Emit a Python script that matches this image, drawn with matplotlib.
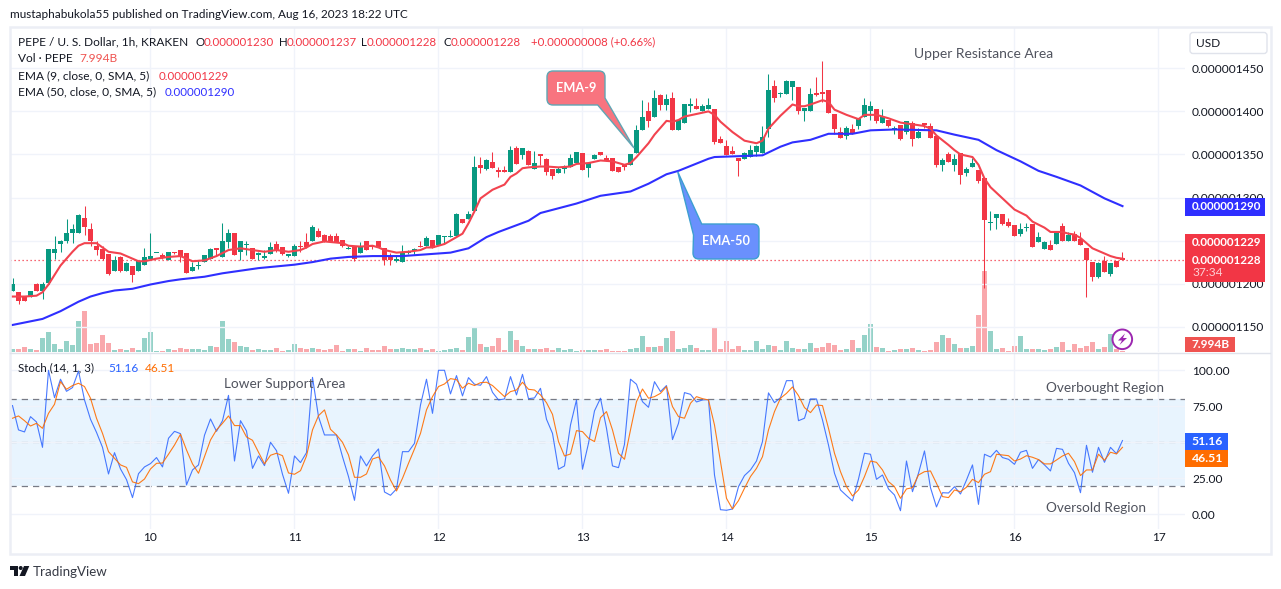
"""PEPE / USD 1h chart with EMA, volume and stochastic panes."""

import matplotlib

matplotlib.use("Agg")
import matplotlib.pyplot as plt
from matplotlib.patches import Circle, FancyBboxPatch, PathPatch, Polygon, Rectangle
from matplotlib.path import Path

W, H = 1281, 589
plt.rcParams["font.family"] = ["Lato", "DejaVu Sans"]

# prices are in 1e-9 USD, volumes in billions of PEPE
opens = [
    1192, 1190, 1186, 1185, 1200, 1191, 1201, 1236, 1246, 1249,
    1259, 1259, 1276, 1264, 1244, 1240, 1234, 1215, 1231, 1215,
    1221, 1215, 1222, 1229, 1235, 1233, 1227, 1236, 1239, 1236,
    1215, 1220, 1225, 1229, 1241, 1231, 1248, 1259, 1237, 1245,
    1241, 1233, 1230, 1234, 1246, 1243, 1232, 1232, 1244, 1248,
    1249, 1261, 1256, 1255, 1255, 1251, 1240, 1243, 1236, 1249,
    1244, 1249, 1241, 1231, 1226, 1225, 1235, 1238, 1244, 1244,
    1251, 1245, 1254, 1254, 1255, 1275, 1275, 1284, 1338, 1333,
    1341, 1332, 1332, 1330, 1357, 1349, 1354, 1333, 1350, 1345,
    1333, 1328, 1333, 1336, 1340, 1352, 1334, 1345, 1353, 1346,
    1346, 1335, 1338, 1338, 1352, 1378, 1400, 1394, 1419, 1408,
    1415, 1378, 1387, 1406, 1406, 1401, 1403, 1403, 1368, 1360,
    1354, 1346, 1345, 1347, 1353, 1352, 1379, 1430, 1420, 1420,
    1428, 1428, 1400, 1401, 1421, 1423, 1425, 1397, 1376, 1371,
    1379, 1383, 1393, 1401, 1403, 1387, 1390, 1379, 1384, 1376,
    1387, 1369, 1386, 1383, 1372, 1338, 1350, 1338, 1352, 1328,
    1336, 1332, 1323, 1270, 1276, 1281, 1271, 1268, 1258, 1265,
    1269, 1248, 1240, 1245, 1246, 1267, 1250, 1258, 1252, 1241,
    1225, 1208, 1226, 1211, 1226, 1230,
]
highs = [
    1207, 1190, 1186, 1192, 1201, 1202, 1240, 1255, 1251, 1275,
    1269, 1281, 1290, 1270, 1250, 1244, 1234, 1232, 1232, 1225,
    1221, 1226, 1241, 1259, 1236, 1236, 1237, 1237, 1239, 1236,
    1225, 1227, 1233, 1241, 1241, 1270, 1263, 1259, 1250, 1250,
    1241, 1237, 1239, 1248, 1250, 1243, 1234, 1246, 1249, 1259,
    1268, 1265, 1258, 1258, 1259, 1251, 1244, 1244, 1248, 1250,
    1244, 1250, 1241, 1235, 1233, 1245, 1239, 1241, 1249, 1255,
    1251, 1256, 1255, 1262, 1282, 1275, 1284, 1348, 1347, 1345,
    1353, 1335, 1337, 1360, 1360, 1357, 1355, 1354, 1350, 1346,
    1333, 1336, 1338, 1350, 1353, 1352, 1340, 1350, 1353, 1349,
    1346, 1335, 1339, 1350, 1384, 1413, 1411, 1425, 1420, 1420,
    1423, 1390, 1409, 1415, 1415, 1409, 1416, 1403, 1372, 1367,
    1360, 1346, 1353, 1361, 1361, 1383, 1444, 1437, 1423, 1437,
    1435, 1428, 1404, 1427, 1440, 1459, 1425, 1397, 1382, 1383,
    1385, 1392, 1416, 1412, 1403, 1403, 1390, 1383, 1384, 1389,
    1389, 1381, 1386, 1387, 1372, 1346, 1353, 1350, 1352, 1336,
    1346, 1332, 1323, 1284, 1281, 1281, 1276, 1268, 1270, 1270,
    1269, 1260, 1250, 1251, 1260, 1270, 1260, 1261, 1260, 1241,
    1225, 1225, 1232, 1224, 1226, 1237,
]
lows = [
    1192, 1176, 1180, 1185, 1191, 1182, 1200, 1229, 1237, 1247,
    1247, 1259, 1256, 1244, 1233, 1228, 1210, 1215, 1214, 1215,
    1202, 1215, 1222, 1229, 1235, 1229, 1227, 1234, 1225, 1212,
    1215, 1217, 1225, 1229, 1233, 1231, 1241, 1233, 1228, 1233,
    1229, 1228, 1229, 1234, 1237, 1233, 1231, 1232, 1237, 1241,
    1249, 1254, 1248, 1248, 1248, 1243, 1240, 1226, 1236, 1239,
    1240, 1242, 1222, 1222, 1225, 1225, 1234, 1234, 1243, 1244,
    1241, 1245, 1246, 1254, 1255, 1270, 1275, 1284, 1329, 1332,
    1334, 1324, 1330, 1330, 1339, 1345, 1338, 1333, 1338, 1326,
    1321, 1328, 1328, 1336, 1340, 1332, 1324, 1345, 1349, 1342,
    1331, 1330, 1332, 1338, 1352, 1378, 1382, 1393, 1402, 1402,
    1378, 1378, 1387, 1399, 1403, 1401, 1403, 1362, 1363, 1349,
    1350, 1325, 1345, 1347, 1348, 1352, 1370, 1411, 1417, 1420,
    1413, 1397, 1389, 1401, 1418, 1411, 1398, 1374, 1369, 1368,
    1374, 1379, 1393, 1390, 1386, 1387, 1382, 1374, 1367, 1374,
    1360, 1369, 1381, 1369, 1335, 1331, 1341, 1331, 1316, 1325,
    1335, 1317, 1195, 1262, 1263, 1268, 1266, 1255, 1255, 1261,
    1242, 1248, 1240, 1239, 1246, 1249, 1250, 1250, 1245, 1184,
    1203, 1206, 1214, 1209, 1219, 1228,
]
closes = [
    1200, 1180, 1180, 1192, 1191, 1200, 1240, 1240, 1250, 1259,
    1263, 1280, 1266, 1249, 1239, 1229, 1211, 1228, 1215, 1224,
    1210, 1226, 1231, 1232, 1236, 1231, 1237, 1235, 1232, 1212,
    1219, 1221, 1233, 1240, 1239, 1250, 1259, 1233, 1250, 1246,
    1229, 1236, 1232, 1243, 1238, 1234, 1234, 1244, 1242, 1242,
    1266, 1254, 1248, 1248, 1248, 1244, 1241, 1229, 1243, 1239,
    1243, 1242, 1228, 1227, 1229, 1237, 1236, 1240, 1243, 1253,
    1241, 1256, 1255, 1255, 1281, 1270, 1281, 1336, 1334, 1343,
    1334, 1330, 1330, 1355, 1339, 1357, 1338, 1340, 1348, 1330,
    1325, 1333, 1335, 1346, 1353, 1332, 1340, 1349, 1349, 1342,
    1331, 1330, 1335, 1350, 1378, 1393, 1389, 1416, 1408, 1414,
    1378, 1390, 1409, 1409, 1403, 1406, 1407, 1365, 1363, 1349,
    1350, 1342, 1352, 1355, 1360, 1370, 1425, 1415, 1421, 1435,
    1435, 1401, 1404, 1420, 1419, 1420, 1398, 1379, 1369, 1381,
    1374, 1392, 1407, 1406, 1389, 1393, 1383, 1380, 1368, 1389,
    1368, 1376, 1384, 1369, 1338, 1343, 1341, 1345, 1326, 1333,
    1340, 1319, 1274, 1271, 1281, 1269, 1267, 1255, 1263, 1266,
    1243, 1254, 1248, 1239, 1260, 1250, 1256, 1250, 1245, 1227,
    1208, 1224, 1214, 1224, 1219, 1228,
]
volumes = [
    18, 18, 30, 18, 12, 84, 120, 48, 18, 66,
    42, 186, 246, 48, 54, 102, 54, 12, 18, 12,
    24, 12, 84, 120, 6, 6, 18, 12, 24, 18,
    18, 18, 12, 36, 30, 186, 78, 60, 36, 30,
    12, 18, 12, 12, 24, 6, 12, 48, 24, 18,
    24, 18, 12, 18, 42, 6, 18, 18, 6, 24,
    12, 12, 36, 18, 18, 24, 18, 18, 24, 12,
    18, 6, 12, 18, 24, 12, 90, 144, 48, 30,
    36, 84, 12, 126, 72, 36, 18, 18, 18, 24,
    12, 24, 12, 18, 6, 12, 12, 12, 12, 18,
    6, 6, 6, 18, 24, 96, 30, 30, 36, 84,
    126, 18, 24, 42, 24, 12, 12, 150, 18, 66,
    18, 36, 12, 12, 66, 18, 42, 36, 12, 66,
    24, 18, 18, 54, 24, 30, 54, 42, 12, 18,
    72, 24, 102, 168, 30, 24, 6, 12, 18, 18,
    24, 12, 6, 12, 60, 102, 84, 48, 22, 24,
    36, 222, 486, 126, 18, 24, 6, 36, 96, 18,
    18, 18, 12, 18, 30, 60, 12, 48, 24, 36,
    60, 18, 30, 108, 18, 8,
]

ema9_bars = [
    0, 2, 4, 5, 6, 8, 10, 11, 12, 14, 15, 16, 18, 20, 21, 22, 24, 26, 28, 30,
    32, 34, 36, 38, 40, 42, 44, 46, 48, 49, 50, 52, 55, 56, 58, 60, 61, 62, 64, 66,
    68, 69, 70, 72, 73, 75, 76, 77, 78, 80, 82, 83, 84, 85, 86, 88, 89, 91, 93, 94,
    96, 98, 100, 102, 103, 104, 106, 107, 109, 110, 111, 112, 114, 116, 117, 118, 120, 122, 124, 125,
    126, 128, 130, 131, 132, 133, 135, 136, 137, 139, 141, 142, 144, 146, 148, 150, 152, 153, 154, 156,
    157, 158, 160, 161, 162, 163, 165, 167, 169, 170, 172, 173, 175, 176, 177, 178, 179, 180, 182, 183,
    184, 185,
]
ema9_vals = [
    1185, 1185, 1186, 1190, 1199, 1221, 1237, 1244, 1247, 1247, 1242, 1237, 1235, 1229, 1226, 1226, 1229, 1231, 1232, 1226,
    1227, 1232, 1239, 1241, 1239, 1237, 1239, 1237, 1239, 1242, 1246, 1249, 1247, 1244, 1243, 1244, 1242, 1239, 1236, 1237,
    1239, 1242, 1242, 1246, 1250, 1258, 1270, 1284, 1299, 1309, 1315, 1324, 1328, 1334, 1335, 1336, 1336, 1335, 1336, 1339,
    1340, 1343, 1342, 1338, 1340, 1347, 1363, 1373, 1389, 1388, 1390, 1394, 1397, 1400, 1396, 1388, 1376, 1366, 1363, 1366,
    1380, 1395, 1408, 1406, 1406, 1408, 1413, 1411, 1402, 1396, 1391, 1396, 1396, 1392, 1387, 1385, 1383, 1380, 1372, 1361,
    1355, 1350, 1347, 1338, 1322, 1312, 1299, 1286, 1279, 1272, 1265, 1260, 1260, 1258, 1257, 1253, 1247, 1241, 1235, 1232,
    1230, 1229,
]
ema50_bars = [
    0, 5, 8, 11, 13, 15, 17, 20, 23, 26, 28, 32, 35, 38, 41, 47, 50, 53, 56, 60,
    65, 69, 73, 76, 79, 81, 86, 88, 94, 98, 103, 106, 109, 111, 116, 117, 121, 125, 128, 130,
    133, 136, 138, 140, 143, 147, 154, 157, 161, 164, 168, 171, 174, 178, 182, 185,
]
ema50_vals = [
    1152, 1159, 1168, 1179, 1185, 1189, 1192, 1194, 1199, 1203, 1205, 1208, 1212, 1215, 1218, 1222, 1225, 1229, 1231, 1232,
    1232, 1234, 1236, 1241, 1254, 1260, 1273, 1282, 1293, 1302, 1307, 1316, 1327, 1331, 1345, 1347, 1348, 1349, 1359, 1364,
    1367, 1374, 1374, 1374, 1378, 1379, 1378, 1373, 1367, 1355, 1342, 1331, 1324, 1314, 1299, 1290,
]

stoch_k = [
    75.5, 58.6, 57.2, 67.8, 64.1, 46.5, 100.0, 81.0, 93.8, 85.4,
    88.0, 99.5, 79.4, 66.0, 56.9, 46.5, 28.0, 42.8, 31.5, 24.1,
    11.6, 28.2, 32.9, 35.2, 39.4, 32.9, 52.8, 57.6, 56.0, 20.4,
    30.8, 34.3, 54.9, 66.2, 57.6, 65.0, 82.6, 37.0, 65.0, 57.9,
    31.9, 40.5, 33.8, 50.0, 44.2, 27.8, 14.6, 40.5, 35.9, 42.8,
    95.1, 67.8, 55.1, 55.1, 55.1, 40.0, 26.2, 9.7, 40.5, 33.6,
    40.5, 45.4, 15.5, 13.2, 17.6, 43.5, 43.5, 49.3, 75.9, 93.8,
    70.1, 100.0, 100.0, 83.6, 96.3, 82.2, 94.9, 90.3, 89.6, 95.6,
    84.7, 79.4, 80.1, 95.6, 82.9, 97.2, 80.3, 80.8, 87.5, 66.0,
    56.2, 31.3, 33.6, 62.0, 79.4, 31.3, 49.3, 71.8, 80.6, 59.7,
    33.6, 32.4, 48.6, 93.8, 90.3, 78.2, 74.3, 92.1, 85.2, 89.4,
    51.9, 63.2, 84.5, 83.3, 78.0, 79.4, 79.6, 27.3, 3.2, 2.8,
    3.7, 19.2, 26.9, 30.8, 37.0, 50.5, 84.3, 77.5, 81.0, 92.8,
    92.8, 65.0, 66.7, 80.1, 80.1, 65.5, 48.1, 28.5, 16.9, 13.0,
    9.3, 24.5, 42.4, 41.7, 24.3, 27.3, 17.6, 13.4, 2.5, 37.0,
    15.7, 28.5, 44.0, 18.5, 5.1, 15.0, 14.8, 19.2, 14.1, 23.8,
    34.3, 6.9, 41.7, 39.8, 44.4, 39.4, 38.2, 34.7, 43.1, 44.4,
    31.9, 38.0, 34.3, 30.1, 45.8, 45.1, 35.4, 28.9, 15.0, 47.9,
    29.2, 46.5, 36.1, 46.5, 42.1, 51.2,
]
stoch_d = [
    66.7, 68.3, 65.0, 61.3, 63.2, 59.7, 70.1, 76.4, 92.1, 86.8,
    89.4, 91.0, 88.7, 80.6, 66.7, 56.2, 43.5, 38.9, 34.3, 32.6,
    22.5, 21.3, 24.5, 31.5, 35.4, 35.6, 41.7, 48.1, 55.6, 44.7,
    35.0, 28.5, 40.0, 51.6, 58.6, 63.2, 68.3, 61.6, 61.6, 53.7,
    51.4, 43.1, 35.0, 41.0, 42.4, 40.7, 28.7, 27.8, 30.3, 40.5,
    58.6, 68.5, 72.5, 59.0, 55.1, 50.0, 41.2, 25.7, 25.7, 28.0,
    38.4, 39.8, 33.6, 23.8, 16.2, 25.0, 35.4, 45.4, 56.2, 72.5,
    81.7, 88.7, 90.5, 94.2, 93.5, 87.5, 91.0, 89.4, 91.4, 91.7,
    89.4, 85.6, 81.7, 85.2, 86.3, 91.7, 86.8, 86.3, 82.9, 77.5,
    69.4, 50.5, 40.5, 41.9, 58.1, 57.4, 52.8, 50.5, 67.1, 71.3,
    58.6, 42.4, 38.2, 58.6, 78.2, 87.0, 80.6, 81.7, 84.0, 88.7,
    74.8, 67.8, 66.7, 77.1, 81.7, 80.3, 79.4, 62.0, 36.6, 11.1,
    3.7, 9.5, 18.1, 26.2, 31.9, 40.0, 58.6, 71.3, 80.6, 84.0,
    88.4, 82.4, 74.1, 70.6, 75.9, 75.5, 59.7, 42.4, 29.6, 19.2,
    12.7, 16.9, 26.2, 37.0, 36.1, 30.8, 22.7, 19.2, 11.1, 17.6,
    18.5, 27.3, 29.6, 30.1, 21.5, 12.3, 11.6, 16.9, 15.7, 18.8,
    24.3, 22.0, 27.8, 29.6, 41.7, 41.2, 40.7, 37.0, 38.4, 40.7,
    39.6, 38.0, 35.0, 35.0, 37.7, 40.5, 42.4, 36.6, 26.9, 30.8,
    30.8, 41.7, 37.5, 43.1, 41.9, 46.5,
]

price_ticks = [1150, 1200, 1250, 1300, 1350, 1400, 1450]
stoch_ticks = [0, 25, 50, 75, 100]
day_bars = [23, 47, 71, 95, 119, 143, 167, 191]
day_labels = ["10", "11", "12", "13", "14", "15", "16", "17"]

GREEN = "#089981"
RED = "#f23645"
GREEN_SOFT = "#95d2c8"
RED_SOFT = "#f9a8ac"
GRID = "#f0f3fa"
TEXT = "#131722"
NOTE = "#50535e"


def px_rect(x0, y0, x1, y1):
    return [x0 / W, 1 - y1 / H, (x1 - x0) / W, (y1 - y0) / H]


def callout_path(x0, y0, x1, y1, r, tail_corner, tail):
    corners = [
        ("tl", (x0, y0), (x0, y0 + r), (x0 + r, y0)),
        ("tr", (x1, y0), (x1 - r, y0), (x1, y0 + r)),
        ("br", (x1, y1), (x1, y1 - r), (x1 - r, y1)),
        ("bl", (x0, y1), (x0 + r, y1), (x0, y1 - r)),
    ]
    verts, codes = [], []
    for name, corner, a, b in corners:
        if name == tail_corner:
            verts += tail
            codes += [Path.LINETO] * len(tail)
        else:
            verts += [a, corner, b]
            codes += [Path.LINETO, Path.CURVE3, Path.CURVE3]
    codes[0] = Path.MOVETO
    verts.append(verts[0])
    codes.append(Path.CLOSEPOLY)
    return Path(verts, codes)


def draw_candles(ax):
    bars = range(len(closes))
    colors = [GREEN if c >= o else RED for o, c in zip(opens, closes)]
    ax.vlines(bars, lows, highs, colors=colors, linewidth=0.75, zorder=3)
    bottoms = [min(o, c) for o, c in zip(opens, closes)]
    heights = [max(abs(c - o), 1.2) for o, c in zip(opens, closes)]
    ax.bar(bars, heights, bottom=bottoms, width=0.82, color=colors, linewidth=0, zorder=3)


def main():
    fig = plt.figure(figsize=(W / 100, H / 100), dpi=100, facecolor="white")

    ax_vol = fig.add_axes(px_rect(10, 27, 1185, 352), zorder=1)
    ax = fig.add_axes(px_rect(10, 27, 1185, 352), zorder=2)
    ax_st = fig.add_axes(px_rect(10, 353, 1185, 529), zorder=2)
    over = fig.add_axes([0, 0, 1, 1], zorder=5)

    xlim = (-0.417, 195.42)

    # volume pane sits behind the candles
    vol_colors = [GREEN_SOFT if c >= o else RED_SOFT for o, c in zip(opens, closes)]
    ax_vol.bar(range(len(volumes)), volumes, width=0.82, color=vol_colors, linewidth=0)
    ax_vol.set_xlim(xlim)
    ax_vol.set_ylim(0, 1950)
    ax_vol.axis("off")

    ax.patch.set_visible(False)
    draw_candles(ax)
    ax.plot(ema50_bars, ema50_vals, color="#2f2fff", linewidth=1.5, zorder=4)
    ax.plot(ema9_bars, ema9_vals, color="#f2434f", linewidth=1.5, zorder=4)
    ax.axhline(closes[-1], color=RED, linewidth=0.9, linestyle=(0, (1, 2.2)), zorder=2)
    ax.set_xlim(xlim)
    ax.set_ylim(1120.6, 1498)
    ax.set_xticks(day_bars)
    ax.set_yticks(price_ticks)
    # the 1250 label is fully covered by the last price tag
    ax.set_yticklabels([f"{v / 1e9:.9f}" if v != 1250 else "" for v in price_ticks], fontsize=8.6, color=TEXT)
    ax.yaxis.tick_right()
    ax.tick_params(axis="y", length=0, pad=5)
    ax.tick_params(axis="x", length=0, labelbottom=False)
    ax.grid(True, color=GRID, linewidth=1.0)
    ax.set_axisbelow(True)
    for spine in ax.spines.values():
        spine.set_visible(False)

    ax_st.axhspan(20, 80, color="#e8f4fe", linewidth=0, zorder=0)
    ax_st.axhline(80, color="#787b86", linewidth=0.9, linestyle=(0, (5, 4)), zorder=1)
    ax_st.axhline(50, color="#787b86", linewidth=0.9, alpha=0.6, linestyle=(0, (5, 4)), zorder=1)
    ax_st.axhline(20, color="#787b86", linewidth=0.9, linestyle=(0, (5, 4)), zorder=1)
    ax_st.plot(range(len(stoch_k)), stoch_k, color="#2962ff", linewidth=0.8, alpha=0.85, zorder=3)
    ax_st.plot(range(len(stoch_d)), stoch_d, color="#ff6d00", linewidth=0.8, alpha=0.9, zorder=4)
    ax_st.set_xlim(xlim)
    ax_st.set_ylim(-10.2, 112)
    ax_st.set_xticks(day_bars)
    ax_st.set_xticklabels(day_labels, fontsize=8.6, color=TEXT)
    ax_st.set_yticks(stoch_ticks)
    ax_st.set_yticklabels([f"{v:.2f}" for v in stoch_ticks], fontsize=8.6, color=TEXT)
    ax_st.yaxis.tick_right()
    ax_st.tick_params(axis="y", length=0, pad=5)
    ax_st.tick_params(axis="x", length=0, pad=2)
    ax_st.grid(True, color=GRID, linewidth=1.0, zorder=2)
    for spine in ax_st.spines.values():
        spine.set_visible(False)

    # overlay in reference pixels: frame, legend, labels, callouts
    over.set_xlim(0, W)
    over.set_ylim(H, 0)
    over.axis("off")
    over.patch.set_visible(False)

    def txt(x, y, s, color=TEXT, size=8.6, ha="left", weight="normal"):
        over.text(x, y, s, color=color, fontsize=size, ha=ha, va="center", fontweight=weight)

    over.add_patch(Rectangle((9.5, 26.5), 1261, 527, fill=False, edgecolor="#eceef5", linewidth=1.8))
    over.plot([10, 1270], [352.5, 352.5], color="#e0e3eb", linewidth=1.0)

    txt(10, 15, "mustaphabukola55 published on TradingView.com, Aug 16, 2023 18:22 UTC", size=8.45)

    txt(18, 42, "PEPE / U. S. Dollar, 1h, KRAKEN", size=8.6)
    for x, s in [(195.5, "O"), (278.5, "H"), (361.5, "L"), (443, "C")]:
        txt(x, 42, s, size=8.3)
    for x, s in [
        (204, "0.000001230"),
        (286.5, "0.000001237"),
        (367, "0.000001228"),
        (451, "0.000001228"),
        (531, "+0.000000008 (+0.66%)"),
    ]:
        txt(x, 42, s, color=RED, size=8.3)
    txt(18, 59, "Vol · PEPE")
    txt(79, 59, "7.994B", color="#ef5350")
    txt(18, 76, "EMA (9, close, 0, SMA, 5)")
    txt(159, 76, "0.000001229", color=RED, size=8.3)
    txt(18, 92, "EMA (50, close, 0, SMA, 5)")
    txt(165, 92, "0.000001290", color="#2f2fff", size=8.3)
    txt(18, 368, "Stoch (14, 1, 3)", size=8.3)
    txt(108, 368, "51.16", color="#2962ff")
    txt(145, 368, "46.51", color="#ff6d00")

    txt(914, 54.5, "Upper Resistance Area", color=NOTE, size=10.0)
    txt(224, 383.5, "Lower Support Area", color=NOTE, size=9.8)
    txt(1046, 388.5, "Overbought Region", color=NOTE, size=9.8)
    txt(1046, 508.5, "Oversold Region", color=NOTE, size=9.8)

    over.add_patch(FancyBboxPatch((1190, 32.5), 77, 21, boxstyle="round,pad=0,rounding_size=3",
                                  facecolor="white", edgecolor="#e0e3eb", linewidth=1.0))
    txt(1208, 43.5, "USD", ha="center")

    # last value tags on the scale
    over.add_patch(Rectangle((1185, 198), 80, 18, facecolor="#2f2fff", edgecolor="none"))
    txt(1192, 207, "0.000001290", color="white", size=8.4, weight="bold")
    over.add_patch(Rectangle((1185, 234), 80, 48, facecolor=RED, edgecolor="none"))
    txt(1192, 243, "0.000001229", color="white", size=8.4, weight="bold")
    txt(1192, 260, "0.000001228", color="white", size=8.4, weight="bold")
    txt(1192, 273, "37:34", color="#fcd0d4", size=8.6)
    over.add_patch(Rectangle((1185, 337), 50, 15, facecolor="#ef5350", edgecolor="none"))
    txt(1192, 344.5, "7.994B", color="white", size=8.6, weight="bold")
    over.add_patch(Rectangle((1185, 433), 43, 17, facecolor="#2962ff", edgecolor="none"))
    txt(1192, 441.5, "51.16", color="white", size=8.8, weight="bold")
    over.add_patch(Rectangle((1185, 450), 43, 17, facecolor="#ff6d00", edgecolor="none"))
    txt(1192, 458.5, "46.51", color="white", size=8.8, weight="bold")

    # callouts
    ema9_box = callout_path(547, 71, 605, 105, 6, "br", [(605, 98), (634, 148), (597.7, 105)])
    over.add_patch(PathPatch(ema9_box, facecolor="#f8747f", edgecolor="#5fa6b4", linewidth=1.0))
    txt(576, 87.5, "EMA-9", color="white", size=9.2, ha="center", weight="bold")
    ema50_box = callout_path(693, 224, 759, 259, 6, "tl", [(693.5, 235), (677.7, 171.7), (701.7, 224)])
    over.add_patch(PathPatch(ema50_box, facecolor="#6a90fd", edgecolor="#3d9fd0", linewidth=1.0))
    txt(726, 241, "EMA-50", color="white", size=9.2, ha="center", weight="bold")

    # flash icon
    over.add_patch(Circle((1122.3, 339.3), 9.8, facecolor="white", edgecolor="#9c27b0", linewidth=1.4))
    over.add_patch(Polygon([(1125, 333.5), (1118, 340.5), (1122, 340.5), (1119.5, 345), (1127, 338), (1123, 338)],
                           facecolor="#9c27b0", edgecolor="none"))

    # TradingView mark
    over.add_patch(Polygon([(10, 566), (18, 566), (18, 576), (14, 576), (14, 570), (10, 570)],
                           facecolor="#131722", edgecolor="none"))
    over.add_patch(Circle((20.7, 568), 2, facecolor="#131722", edgecolor="none"))
    over.add_patch(Polygon([(24, 566), (29.3, 566), (25, 576), (19.5, 576)],
                           facecolor="#131722", edgecolor="none"))
    txt(33, 571.5, "TradingView", color="#363a45", size=9.6)

    fig.savefig("out.png", dpi=100)


if __name__ == "__main__":
    main()
